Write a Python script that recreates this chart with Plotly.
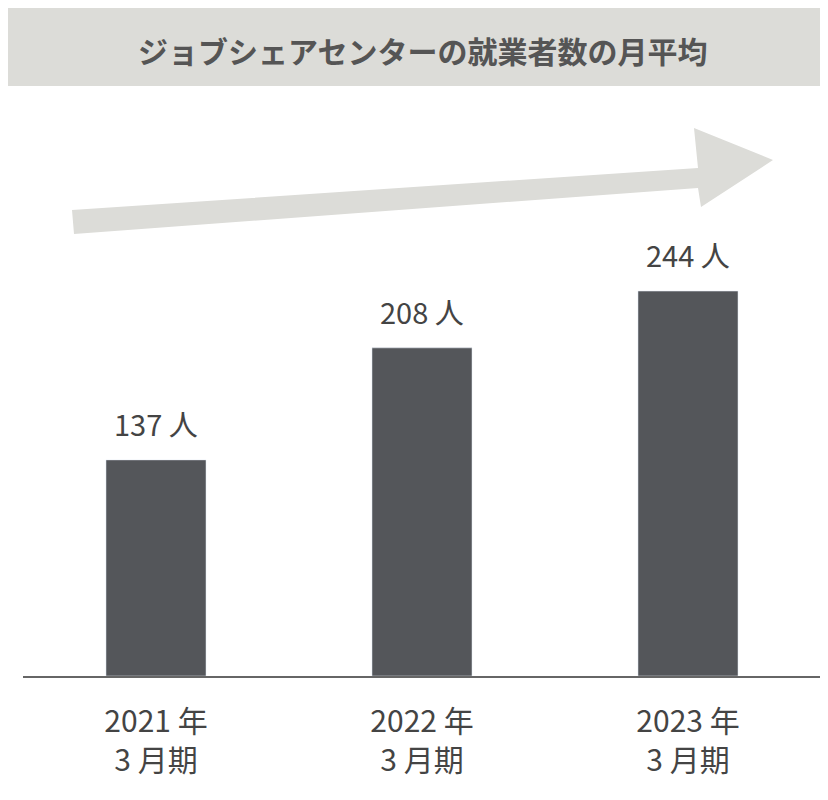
import plotly.graph_objects as go

periods = ['2021 年<br>3 月期', '2022 年<br>3 月期', '2023 年<br>3 月期']
employees = [137, 208, 244]
labels = [f'{v} 人' for v in employees]

# pixel helpers for the decorative shapes (plot area: x 15..813, y 78..668)
def px(x):
    return (x - 15) / 798

def py(y):
    return (668 - y) / 590

fig = go.Figure(go.Bar(
    x=periods, y=employees,
    marker_color='#54565a',
))

arrow = (f'M {px(64)} {py(202)} L {px(690)} {py(160)} L {px(686)} {py(120)} '
         f'L {px(765)} {py(152)} L {px(693)} {py(199)} L {px(690)} {py(180)} '
         f'L {px(66)} {py(226)} Z')

notes = [dict(text='<b>ジョブシェアセンターの就業者数の月平均</b>', xref='paper', yref='paper',
              x=px(414), y=py(42), yanchor='middle', showarrow=False,
              font=dict(size=30, color='#555555'))]
for p, v, t in zip(periods, employees, labels):
    notes.append(dict(x=p, y=v, text=t, yanchor='bottom', yshift=14, showarrow=False,
                      font=dict(size=29, color='#444444')))

fig.update_layout(
    width=828, height=800,
    margin=dict(l=15, r=15, t=78, b=132),
    paper_bgcolor='white', plot_bgcolor='white',
    bargap=0.624, showlegend=False,
    font=dict(family='Noto Sans CJK JP', color='#444444'),
    xaxis=dict(tickfont=dict(size=30, color='#444444'), showline=True,
               linecolor='#666666', linewidth=2, ticks='', fixedrange=True,
               ticklabelstandoff=18),
    yaxis=dict(range=[0, 374], visible=False),
    shapes=[
        dict(type='rect', xref='paper', yref='paper', x0=px(0), x1=px(828),
             y0=py(78), y1=py(0), fillcolor='#dcdcd8', line_width=0, layer='below'),
        dict(type='path', xref='paper', yref='paper', path=arrow,
             fillcolor='#dcdcd8', line_width=0, layer='below'),
    ],
    annotations=notes,
)

fig.write_html('out.html')
